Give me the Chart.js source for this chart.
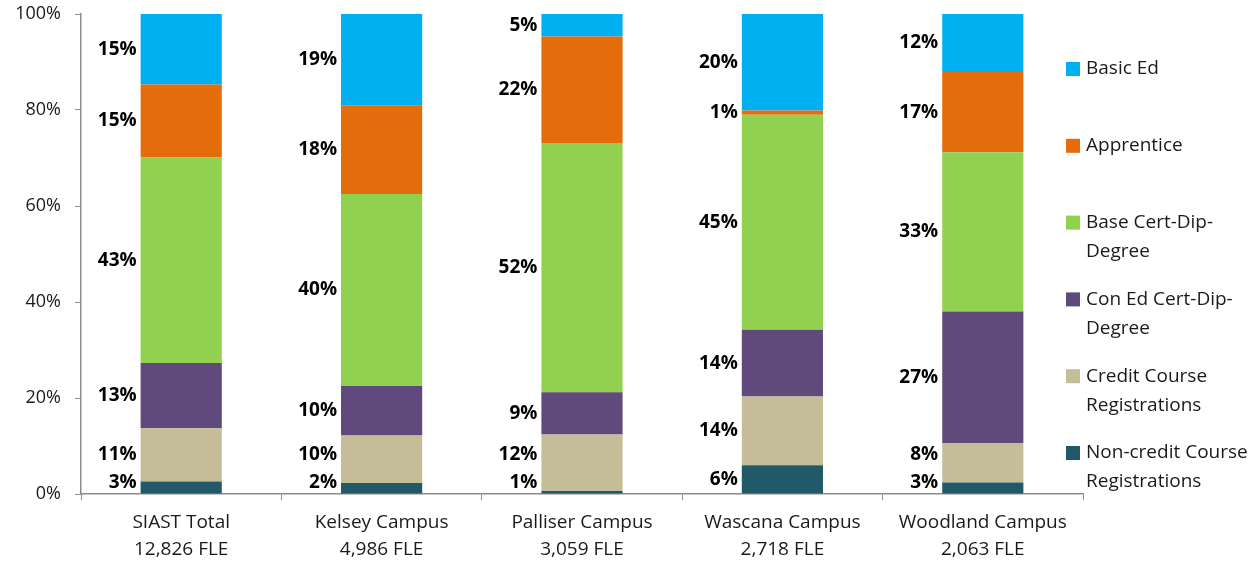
<!DOCTYPE html>
<html>
<head>
<meta charset="utf-8">
<script src="https://cdn.jsdelivr.net/npm/chart.js@4.4.1/dist/chart.umd.min.js"></script>
<style>
  body { margin: 0; background: #fff; }
  #wrap { width: 1258px; height: 566px; }
</style>
</head>
<body>
<div id="wrap"><canvas id="chart" width="1258" height="566"></canvas></div>
<script>
// campuses (two-line tick labels)
const campuses = [
  ["SIAST Total", "12,826 FLE"],
  ["Kelsey Campus", "4,986 FLE"],
  ["Palliser Campus", "3,059 FLE"],
  ["Wascana Campus", "2,718 FLE"],
  ["Woodland Campus", "2,063 FLE"]
];

// share of FLE (bottom of the stack first)
const nonCredit = [2.6, 2.3, 0.6, 6.0, 2.4];
const creditCourse = [11.1, 9.9, 11.8, 14.3, 8.2];
const conEd = [13.6, 10.3, 8.8, 13.9, 27.4];
const baseCert = [42.8, 40.0, 51.9, 44.8, 33.2];
const apprentice = [15.2, 18.4, 22.2, 0.9, 16.7];
const basicEd = [14.7, 19.1, 4.7, 20.1, 12.1];

// percentages printed next to the segments
const nonCreditLbl = [3, 2, 1, 6, 3];
const creditCourseLbl = [11, 10, 12, 14, 8];
const conEdLbl = [13, 10, 9, 14, 27];
const baseCertLbl = [43, 40, 52, 45, 33];
const apprenticeLbl = [15, 18, 22, 1, 17];
const basicEdLbl = [15, 19, 5, 20, 12];

const yTicks = [0, 20, 40, 60, 80, 100];

const series = [
  { name: "Non-credit Course Registrations", legend: ["Non-credit Course", "Registrations"], data: nonCredit, lbl: nonCreditLbl, color: "#215968" },
  { name: "Credit Course Registrations", legend: ["Credit Course", "Registrations"], data: creditCourse, lbl: creditCourseLbl, color: "#c4bd97" },
  { name: "Con Ed Cert-Dip-Degree", legend: ["Con Ed Cert-Dip-", "Degree"], data: conEd, lbl: conEdLbl, color: "#604a7b" },
  { name: "Base Cert-Dip-Degree", legend: ["Base Cert-Dip-", "Degree"], data: baseCert, lbl: baseCertLbl, color: "#92d050" },
  { name: "Apprentice", legend: ["Apprentice"], data: apprentice, lbl: apprenticeLbl, color: "#e46c0a" },
  { name: "Basic Ed", legend: ["Basic Ed"], data: basicEd, lbl: basicEdLbl, color: "#00b0f0" }
];

const FONT = '"Open Sans", "DejaVu Sans", sans-serif';
const axisGray = "#8c8c8c";

// percent labels to the left of each segment, nudged up so they don't collide
const segLabels = {
  id: "segLabels",
  afterDatasetsDraw(chart) {
    const ctx = chart.ctx;
    const base = chart.scales.y.getPixelForValue(0);
    const gap = 28;
    ctx.save();
    ctx.font = "bold 19px " + FONT;
    ctx.fillStyle = "#000";
    ctx.textAlign = "right";
    ctx.textBaseline = "middle";
    campuses.forEach((c, i) => {
      let prev = base - 11 + gap;
      series.forEach((s, d) => {
        const bar = chart.getDatasetMeta(d).data[i];
        const mid = (bar.y + bar.base) / 2;
        const y = Math.min(mid, prev - gap);
        ctx.fillText(s.lbl[i] + "%", bar.x - bar.width / 2 - 4, y);
        prev = y;
      });
    });
    ctx.restore();
  }
};

// legend on the right, top to bottom = top of stack to bottom
const sideLegend = {
  id: "sideLegend",
  afterDraw(chart) {
    const ctx = chart.ctx;
    ctx.save();
    ctx.font = "19px " + FONT;
    ctx.textAlign = "left";
    ctx.textBaseline = "middle";
    const items = series.slice().reverse();
    items.forEach((s, k) => {
      const y = 69 + k * 76.8;
      ctx.fillStyle = s.color;
      ctx.fillRect(1066, y - 7, 14, 14);
      ctx.fillStyle = "#1a1a1a";
      s.legend.forEach((line, j) => ctx.fillText(line, 1086, y + j * 29));
    });
    ctx.restore();
  }
};

new Chart(document.getElementById("chart"), {
  type: "bar",
  data: {
    labels: campuses,
    datasets: series.map(s => ({
      label: s.name,
      data: s.data,
      backgroundColor: s.color,
      borderWidth: 0,
      barPercentage: 0.405,
      categoryPercentage: 1.0
    }))
  },
  options: {
    responsive: false,
    animation: false,
    layout: { padding: { left: 0, right: 175, top: 14, bottom: 0 } },
    plugins: {
      legend: { display: false },
      tooltip: { enabled: false }
    },
    scales: {
      x: {
        stacked: true,
        afterFit: s => { s.height = 72; s.paddingLeft = 0; s.paddingRight = 0; },
        grid: { display: true, drawOnChartArea: false, offset: true, color: axisGray, tickLength: 6 },
        border: { color: axisGray, width: 1.5 },
        ticks: { color: "#1a1a1a", font: { family: FONT, size: 19, lineHeight: 1.42 }, padding: 9, maxRotation: 0 }
      },
      y: {
        stacked: true,
        min: 0,
        max: 100,
        afterFit: s => { s.width = 81; s.paddingTop = 0; s.paddingBottom = 0; },
        afterBuildTicks: s => { s.ticks = yTicks.map(v => ({ value: v })); },
        grid: { display: true, drawOnChartArea: false, color: axisGray, tickLength: 6 },
        border: { color: axisGray, width: 1.5 },
        ticks: { color: "#1a1a1a", font: { family: FONT, size: 18 }, padding: 14, callback: v => v + "%" }
      }
    }
  },
  plugins: [segLabels, sideLegend]
});
</script>
</body>
</html>
